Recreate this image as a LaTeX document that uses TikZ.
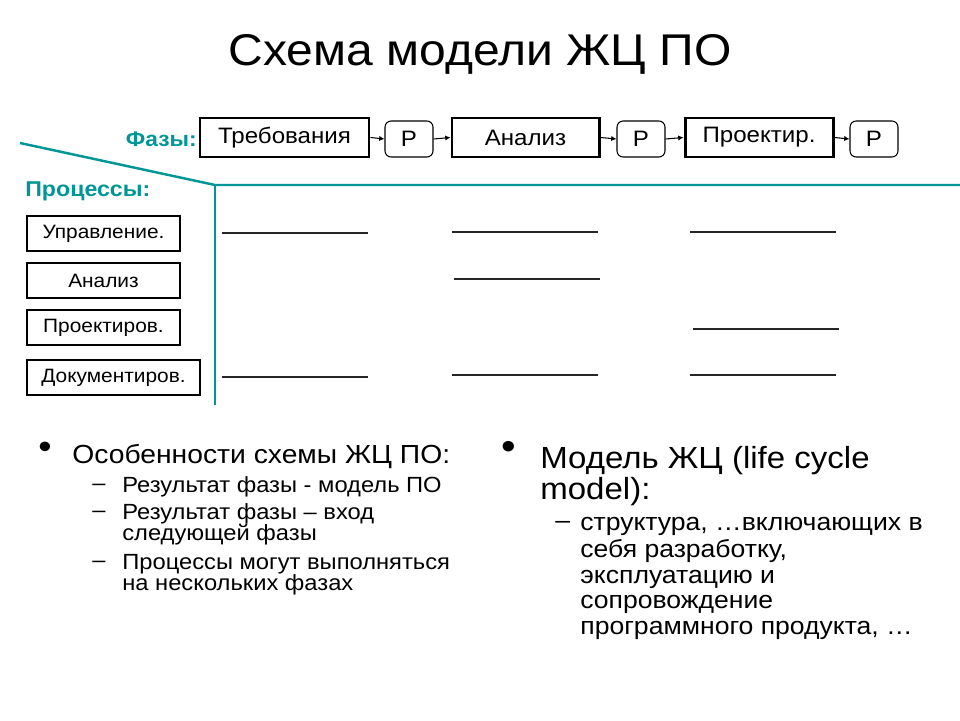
\documentclass[tikz,border=0pt]{standalone}
\usepackage{fontspec}
\setmainfont{Liberation Sans}[FakeStretch=1.08]
\usetikzlibrary{arrows.meta}
\definecolor{tealc}{RGB}{0,150,150}
\begin{document}
\begin{tikzpicture}[x=0.02cm,y=-0.02cm,
  phasebox/.style={draw,line width=1.7pt,minimum width=#1*0.02cm,minimum height=39*0.02cm,inner sep=0pt,font=\fontsize{12.7}{14}\selectfont},
  rbox/.style={draw,line width=0.6pt,rounded corners=3.5pt,minimum width=48*0.02cm,minimum height=36*0.02cm,inner sep=0pt,font=\fontsize{12.7}{14}\selectfont},
  procbox/.style={draw,line width=0.9pt,minimum width=#1*0.02cm,minimum height=35*0.02cm,inner sep=0pt,font=\fontsize{11}{12}\selectfont},
  tealline/.style={draw=tealc,line width=1.4pt},
  procline/.style={draw=black!85,line width=1.1pt},
  flow/.style={-{Latex[length=3pt,width=3pt]},line width=0.6pt},
  lbl/.style={text=tealc,font=\bfseries\fontsize{12}{14}\selectfont,inner sep=0pt},
  bigtxt/.style={anchor=base west,inner sep=0pt,font=\fontsize{14.9}{18}\selectfont},
  subtxt/.style={anchor=base west,inner sep=0pt,font=\fontsize{12.5}{15}\selectfont},
  rbig/.style={anchor=base west,inner sep=0pt,font=\fontsize{17.4}{20}\selectfont},
  rsub/.style={anchor=base west,inner sep=0pt,font=\fontsize{14}{15}\selectfont}
]
\useasboundingbox (0,0) rectangle (960,720);

\node[anchor=base,inner sep=0pt,font=\fontsize{25.3}{30}\selectfont] (title) at (480,65) {Схема модели ЖЦ ПО};

% phases
\node[phasebox=169] (ph1) at (284.5,137.5) {Требования};
\node[rbox] (r1) at (409,139) {P};
\node[phasebox=147] (ph2) at (525.5,137.5) {Анализ};
\node[rbox] (r2) at (641,139) {P};
\node[phasebox=148] (ph3) at (759,137.5) {Проектир.};
\node[rbox] (r3) at (874,139) {P};
\draw[flow] (ph1.east) -- (r1.west);
\draw[flow] (r1.east) -- (ph2.west);
\draw[flow] (ph2.east) -- (r2.west);
\draw[flow] (r2.east) -- (ph3.west);
\draw[flow] (ph3.east) -- (r3.west);

\node[lbl,anchor=east] (phl) at (197,139) {Фазы:};
\node[lbl,anchor=west,font=\bfseries\fontsize{12.2}{14}\selectfont] (prl) at (25,191) {Процессы:};

% teal frame
\coordinate (d0) at (20,143);
\coordinate (d1) at (215,185);
\coordinate (d2) at (960,185);
\coordinate (d3) at (215,405);
\draw[tealline] (d0) -- (d1) -- (d2);
\draw[tealline] (d1) -- (d3);

% processes
\node[procbox=153] (p1) at (103.5,233.5) {Управление.};
\node[procbox=153] (p2) at (103.5,280.5) {Анализ};
\node[procbox=153] (p3) at (103.5,327.5) {Проектиров.};
\node[procbox=173] (p4) at (113.5,377.5) {Документиров.};

% activity lines
\coordinate (a1) at (222,233); \coordinate (b1) at (368,233);
\coordinate (a2) at (222,377); \coordinate (b2) at (368,377);
\coordinate (a3) at (452,232); \coordinate (b3) at (598,232);
\coordinate (a4) at (454,279); \coordinate (b4) at (600,279);
\coordinate (a5) at (452,375); \coordinate (b5) at (598,375);
\coordinate (a6) at (690,232); \coordinate (b6) at (836,232);
\coordinate (a7) at (693,329); \coordinate (b7) at (839,329);
\coordinate (a8) at (690,375); \coordinate (b8) at (836,375);
\foreach \i in {1,...,8} {\draw[procline] (a\i) -- (b\i);}

% left text
\node[bigtxt,font=\fontsize{20}{20}\selectfont] (bl1) at (38,458) {•};
\node[bigtxt] (l1) at (72,463) {Особенности схемы ЖЦ ПО:};
\node[subtxt] (dl1) at (92,490) {–};
\node[subtxt] (l2) at (122,492) {Результат фазы - модель ПО};
\node[subtxt] (dl2) at (92,517) {–};
\node[subtxt] (l3) at (122,519) {Результат фазы – вход};
\node[subtxt] (l4) at (122,540) {следующей фазы};
\node[subtxt] (dl3) at (92,567) {–};
\node[subtxt] (l5) at (122,569) {Процессы могут выполняться};
\node[subtxt] (l6) at (122,590) {на нескольких фазах};

% right text
\node[rbig,font=\fontsize{22}{22}\selectfont] (br1) at (501,459) {•};
\node[rbig] (r1t) at (540,468) {Модель ЖЦ (life cycle};
\node[rbig] (r2t) at (540,499) {model):};
\node[rsub] (dr1) at (555,528) {–};
\node[rsub] (r3t) at (580,530) {структура, …включающих в};
\node[rsub] (r4t) at (580,557) {себя разработку,};
\node[rsub] (r5t) at (580,583) {эксплуатацию и};
\node[rsub] (r6t) at (580,608) {сопровождение};
\node[rsub] (r7t) at (580,634) {программного продукта, …};
\end{tikzpicture}
\end{document}
